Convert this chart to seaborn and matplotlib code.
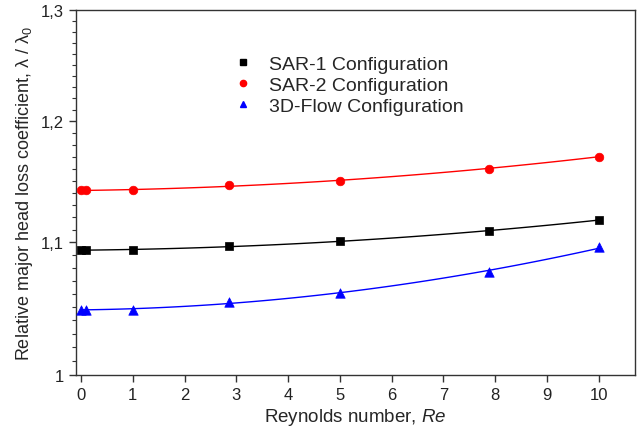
import numpy as np
import pandas as pd
import seaborn as sns
import matplotlib
matplotlib.use("Agg")
import matplotlib.pyplot as plt
from matplotlib.lines import Line2D
from matplotlib.ticker import FixedLocator, NullFormatter

re_vals = [0.0, 0.1, 1.0, 2.85, 5.0, 7.87, 10.0]
sar1 = [1.094, 1.094, 1.094, 1.097, 1.101, 1.109, 1.118]
sar2 = [1.142, 1.142, 1.142, 1.146, 1.150, 1.160, 1.170]
flow3d = [1.048, 1.048, 1.048, 1.054, 1.061, 1.077, 1.096]
series_names = ["SAR-1 Configuration", "SAR-2 Configuration", "3D-Flow Configuration"]
y_ticks = [1.0, 1.1, 1.2, 1.3]
y_tick_labels = ["1", "1,1", "1,2", "1,3"]
x_ticks = list(range(0, 11))

sns.set_style("ticks")
plt.rcParams["font.family"] = ["Liberation Sans", "DejaVu Sans"]
plt.rcParams["mathtext.fontset"] = "custom"
plt.rcParams["mathtext.rm"] = "Liberation Sans"
plt.rcParams["mathtext.it"] = "Liberation Sans:italic"

fig = plt.figure(figsize=(6.37, 4.35), dpi=100)
ax = fig.add_axes([0.119, 0.1356, 0.878, 0.839])

styles = [("black", "s", 5.8), ("red", "o", 6.2), ("#0000ff", "^", 6.8)]
handles = []
for name, vals, (col, mk, ms) in zip(series_names, [sar1, sar2, flow3d], styles):
    df = pd.DataFrame({"Re": re_vals, "v": vals})
    sns.regplot(data=df, x="Re", y="v", order=2, ci=None, scatter=False,
                ax=ax, line_kws=dict(color=col, lw=1.0))
    sns.scatterplot(data=df, x="Re", y="v", marker=mk, color=col, s=ms**2,
                    edgecolor=col, linewidth=0.5, ax=ax, zorder=5)
    handles.append(Line2D([], [], ls="none", marker=mk, color=col, markersize=4.5))

ax.set_yscale("log")
ax.set_ylim(1.0, 1.3)
ax.set_xlim(-0.1, 10.7)
ax.yaxis.set_major_locator(FixedLocator(y_ticks))
ax.set_yticklabels(y_tick_labels)
ax.yaxis.set_minor_locator(FixedLocator([1 + 0.01 * i for i in range(1, 30) if i % 10]))
ax.yaxis.set_minor_formatter(NullFormatter())
ax.set_xticks(x_ticks)

for s in ax.spines.values():
    s.set_color("#333333")
    s.set_linewidth(1.0)
ax.tick_params(axis="both", which="major", direction="out", length=5, width=1,
               color="#333333", labelsize=12, labelcolor="#222222")
ax.tick_params(axis="y", which="minor", direction="out", length=3, width=0.8, color="#333333")

ax.set_xlabel("Reynolds number, $\\mathit{Re}$", fontsize=13.5, labelpad=3)
ax.set_ylabel("Relative major head loss coefficient, λ / λ$_0$", fontsize=13, labelpad=4)

ax.legend(handles, series_names, loc="upper left", bbox_to_anchor=(0.25, 0.925),
          frameon=False, fontsize=14, handlelength=1.0, handletextpad=0.85,
          labelspacing=0.18)

fig.savefig("out.png", dpi=100)
